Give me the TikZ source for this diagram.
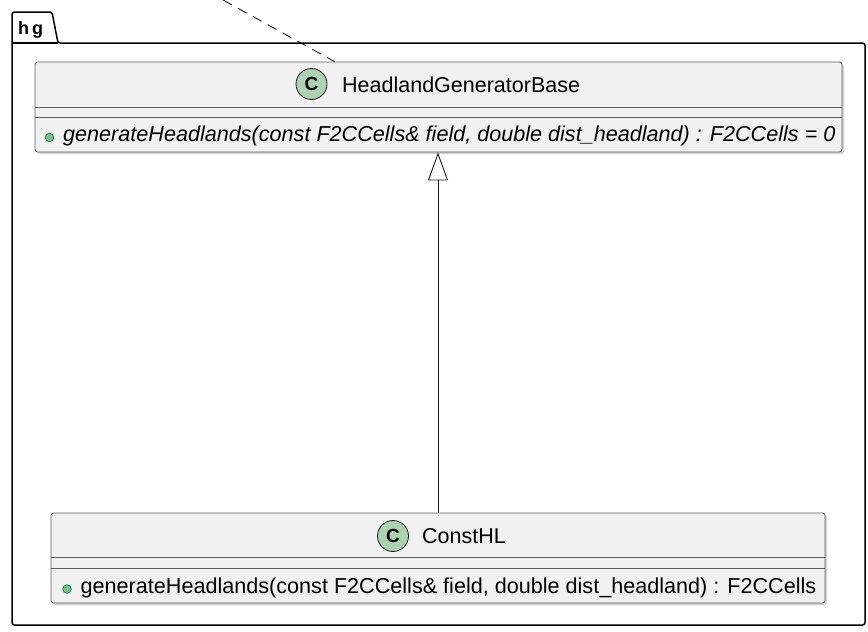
\documentclass[tikz,border=0pt]{standalone}
\usepackage{fontspec}
\setmainfont{Liberation Sans}
\usetikzlibrary{arrows.meta,calc}
\definecolor{boxfill}{HTML}{F1F1F1}
\definecolor{boxline}{HTML}{181818}
\definecolor{cfill}{HTML}{ADD1B2}
\definecolor{dotfill}{HTML}{84BE84}
\definecolor{dotline}{HTML}{038048}
\tikzset{
  classbox/.style={draw=boxline!70, line width=0.8pt, fill=boxfill, rounded corners=2.5pt, inner sep=0pt},
  shadowbox/.style={fill=black!18, rounded corners=2.5pt, draw=none, inner sep=0pt},
  sepline/.style={draw=boxline!70, line width=0.8pt},
  cmark/.style={circle, draw=boxline, line width=0.8pt, fill=cfill, minimum size=31pt, inner sep=0pt, font=\fontsize{19}{19}\selectfont\bfseries},
  titletext/.style={anchor=base west, inner sep=0pt, font=\fontsize{21.5}{24}\selectfont},
  methtext/.style={anchor=base west, inner sep=0pt, font=\fontsize{21.6}{24}\selectfont},
  pubdot/.style={circle, draw=dotline, line width=0.7pt, fill=dotfill, minimum size=8.5pt, inner sep=0pt},
  pkgline/.style={draw=black, line width=1.5pt, rounded corners=2.5pt},
  relline/.style={draw=boxline, line width=0.9pt},
}
\begin{document}
\begin{tikzpicture}[x=1pt, y=-1pt]
\useasboundingbox (0,0) rectangle (868,632);
% package
\path[pkgline] (12,625) -- (12,12) -- (52,12) -- (58,43) -- (865,43) -- (865,625) -- cycle;
\draw[line width=1.5pt] (12,43) -- (58,43);
\node[anchor=base west, inner sep=0pt, font=\fontsize{18}{20}\selectfont\bfseries] (pkgname) at (18,34) {h\kern3pt g};
% shadows
\node[shadowbox, minimum width=807pt, minimum height=90pt] (bshadow) at (440.5,109) {};
\node[shadowbox, minimum width=774pt, minimum height=90pt] (cshadow) at (440,560) {};
% base class
\node[classbox, minimum width=807pt, minimum height=90pt] (base) at (438.5,107) {};
\draw[sepline] (base.west |- 0,107) -- (base.east |- 0,107);
\draw[sepline] (base.west |- 0,117) -- (base.east |- 0,117);
\node[cmark] (c1) at (311.5,84) {C};
\node[titletext] (t1) at (342,92) {HeadlandGeneratorBase};
\node[pubdot] (d1) at (49.5,137.5) {};
\node[methtext] (m1) at (63,141) {\itshape generateHeadlands(const F2CCells\& field, double dist\_headland) : F2CCells = 0};
% derived class
\node[classbox, minimum width=774pt, minimum height=90pt] (chl) at (438,558) {};
\draw[sepline] (chl.west |- 0,557) -- (chl.east |- 0,557);
\draw[sepline] (chl.west |- 0,568) -- (chl.east |- 0,568);
\node[cmark] (c2) at (393,536) {C};
\node[titletext] (t2) at (422,543) {ConstHL};
\node[pubdot] (d2) at (67,589) {};
\node[methtext] (m2) at (80.5,593) {generateHeadlands(const F2CCells\& field, double dist\_headland) : F2CCells};
% relations
\draw[relline, -{Triangle[open, length=28pt, width=20pt, fill=white]}] (chl.north -| 438,0) -- (base.south -| 438,0);
\coordinate (dtop) at (223,0);
\draw[relline, dash pattern=on 10pt off 7pt] (dtop) -- ($(base.north west)+(300,0)$);
\end{tikzpicture}
\end{document}
